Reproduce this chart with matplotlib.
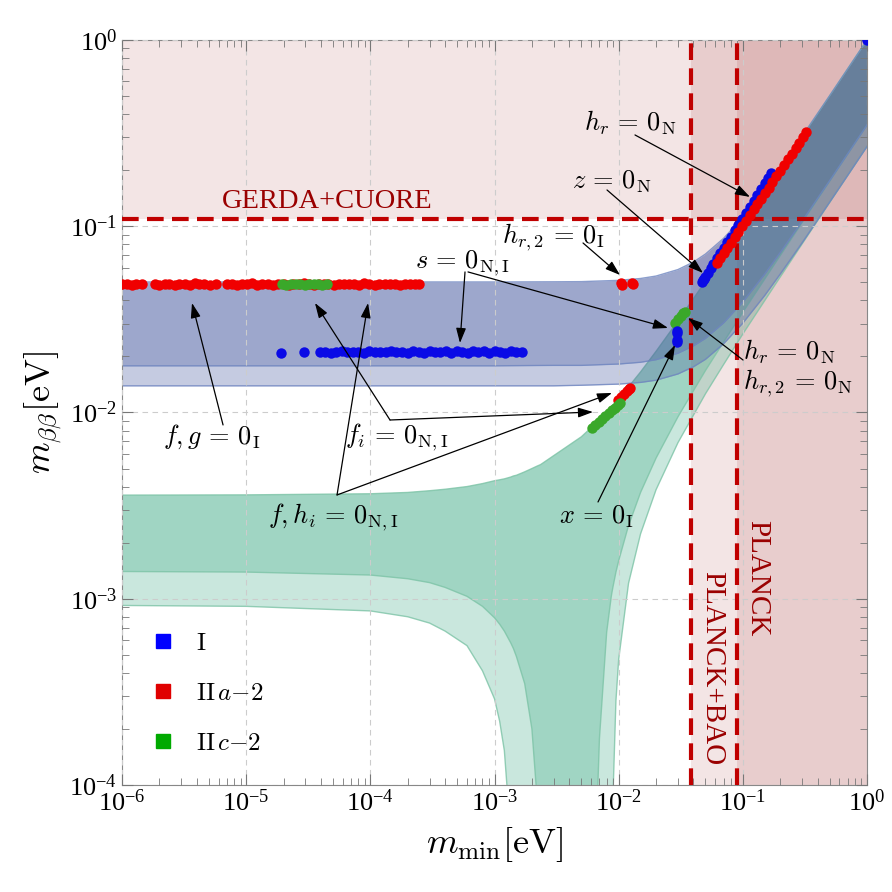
import matplotlib
matplotlib.use('Agg')
import matplotlib.pyplot as plt
from matplotlib.lines import Line2D

plt.rcParams['font.family'] = 'serif'
plt.rcParams['font.serif'] = ['Liberation Serif', 'DejaVu Serif']
plt.rcParams['mathtext.fontset'] = 'cm'

# --- allowed m_bb bands, normal ordering (green) ---
m_no = [1e-6, 1e-5, 1e-4, 2e-4, 3e-4, 4e-4, 6e-4, 8e-4, 1e-3, 1.1e-3,
        1.2e-3, 1.35e-3, 1.42e-3, 1.5e-3, 1.75e-3, 2e-3, 2.2e-3, 2.35e-3, 5e-3, 6.5e-3,
        6.7e-3, 7e-3, 8e-3, 8.7e-3, 8.8e-3, 9e-3, 9.5e-3, 1e-2, 1.2e-2, 1.5e-2,
        2e-2, 3e-2, 5e-2, 7e-2, 0.1, 0.2, 0.3, 0.5, 0.7, 1.0]
no_hi = [0.00360, 0.00361, 0.00366, 0.00372, 0.00380, 0.00387, 0.00400, 0.00415, 0.00430, 0.00435,
         0.00440, 0.00450, 0.00456, 0.00460, 0.00480, 0.00500, 0.00515, 0.00525, 0.00740, 0.00870,
         0.00890, 0.00920, 0.0101, 0.01071, 0.01080, 0.01098, 0.01143, 0.0119, 0.01372, 0.0165,
         0.0213, 0.0310, 0.0507, 0.0705, 0.1004, 0.2002, 0.3001, 0.5001, 0.7001, 1.0]
no_lo_dark = [0.00140, 0.00139, 0.00134, 0.00128, 0.00122, 0.00115, 0.00103, 0.00091, 0.00079, 0.00073,
              0.00067, 0.00058, 0.00054, 0.00049, 0.00035, 0.00020, 0.000085, 1e-6, 1e-6, 1e-6,
              0.000076, 0.000178, 0.00066, 0.00102, 0.00107, 0.00116, 0.00139, 0.00160, 0.00247, 0.00372,
              0.00569, 0.00947, 0.0168, 0.0239, 0.0345, 0.0696, 0.1046, 0.1744, 0.2443, 0.349]
no_lo_light = [0.00092, 0.00091, 0.00086, 0.00080, 0.00074, 0.00067, 0.00056, 0.00041, 0.00029, 0.00022,
               0.000153, 0.000053, 1e-6, 1e-6, 1e-6, 1e-6, 1e-6, 1e-6, 1e-6, 1e-6,
               1e-6, 1e-6, 1e-6, 1e-6, 1e-6, 0.000088, 0.000283, 0.000474, 0.00121, 0.00223,
               0.00385, 0.00688, 0.0126, 0.0181, 0.0264, 0.0534, 0.0803, 0.134, 0.1875, 0.268]

# --- allowed m_bb bands, inverted ordering (blue) ---
m_io = [1e-6, 1e-4, 1e-3, 3e-3, 5e-3, 1e-2, 1.5e-2, 2e-2, 3e-2, 4e-2,
        5e-2, 7e-2, 0.1, 0.15, 0.2, 0.3, 0.5, 0.7, 1.0]
io_hi = [0.0502, 0.0502, 0.0502, 0.0503, 0.0504, 0.0512, 0.0524, 0.0540, 0.0585, 0.0642,
         0.0709, 0.0861, 0.1119, 0.1582, 0.2062, 0.3042, 0.5025, 0.7018, 1.0]
io_lo_dark = [0.0178, 0.0178, 0.0178, 0.0179, 0.0179, 0.0182, 0.0186, 0.0192, 0.0208, 0.0228,
              0.0250, 0.0303, 0.0392, 0.0554, 0.0722, 0.1065, 0.1759, 0.2456, 0.350]
io_lo_light = [0.0139, 0.0139, 0.0139, 0.0139, 0.0140, 0.0142, 0.0145, 0.0149, 0.0161, 0.0176,
               0.0193, 0.0234, 0.0302, 0.0425, 0.0554, 0.0815, 0.1347, 0.188, 0.268]

# experimental bounds
gerda_cuore = 0.11
planck_bao = 0.038
planck = 0.09

# --- scan points ---
# texture I (blue)
blue_x = [1.9e-5, 2.9e-5, 3.9e-5, 4.3e-5, 4.8e-5, 5.3e-5, 5.9e-5, 6.5e-5, 7.2e-5, 8.0e-5,
          8.9e-5, 9.8e-5, 1.09e-4, 1.2e-4, 1.33e-4, 1.47e-4, 1.62e-4, 1.8e-4, 2.0e-4, 2.2e-4,
          2.45e-4, 2.7e-4, 3.0e-4, 3.3e-4, 3.65e-4, 4.05e-4, 4.5e-4, 5.0e-4, 5.5e-4, 6.1e-4,
          6.7e-4, 7.4e-4, 8.2e-4, 9.1e-4, 1.0e-3, 1.1e-3, 1.22e-3, 1.35e-3, 1.5e-3, 1.65e-3,
          0.047, 0.048, 0.049, 0.050, 0.052, 0.055, 0.058, 0.062, 0.066, 0.070,
          0.075, 0.080, 0.086, 0.092, 0.099, 0.106, 0.114, 0.122, 0.131, 0.140,
          0.150, 0.160, 0.170, 1.0]
blue_y = [0.0209, 0.0211, 0.0210, 0.0212, 0.0209, 0.0211, 0.0213, 0.0210, 0.0212, 0.0211,
          0.0209, 0.0213, 0.0211, 0.0210, 0.0212, 0.0214, 0.0210, 0.0212, 0.0209, 0.0213,
          0.0211, 0.0208, 0.0214, 0.0210, 0.0212, 0.0215, 0.0209, 0.0213, 0.0211, 0.0208,
          0.0214, 0.0210, 0.0213, 0.0209, 0.0215, 0.0211, 0.0208, 0.0213, 0.0211, 0.0212,
          0.0500, 0.0514, 0.0520, 0.0536, 0.0558, 0.0594, 0.0627, 0.0672, 0.0718, 0.0764,
          0.0821, 0.0879, 0.0949, 0.1019, 0.1100, 0.1181, 0.1275, 0.1369, 0.1475, 0.1581,
          0.1699, 0.1818, 0.1937, 1.0]
blue_cl_x = [0.0293, 0.0296, 0.0294, 0.0297]
blue_cl_y = [0.0274, 0.0266, 0.0245, 0.0238]

# texture II a-2 (red)
red_x = [1.0e-6, 1.1e-6, 1.2e-6, 1.3e-6, 1.45e-6,
         1.85e-6, 2.0e-6, 2.2e-6, 2.4e-6, 2.65e-6, 2.9e-6, 3.2e-6, 3.5e-6, 3.85e-6, 4.2e-6,
         4.6e-6, 5.1e-6, 5.7e-6,
         7.0e-6, 7.7e-6, 8.5e-6, 9.3e-6, 1.02e-5, 1.12e-5, 1.23e-5, 1.35e-5, 1.5e-5, 1.65e-5,
         1.8e-5, 2.0e-5, 2.2e-5, 2.4e-5, 2.65e-5, 2.9e-5, 3.2e-5, 3.5e-5, 3.85e-5, 4.2e-5,
         4.6e-5, 5.1e-5, 5.6e-5, 6.1e-5, 6.7e-5, 7.4e-5, 8.1e-5, 8.9e-5, 9.8e-5, 1.08e-4,
         1.18e-4, 1.3e-4, 1.43e-4, 1.57e-4, 1.72e-4, 1.9e-4, 2.08e-4, 2.28e-4, 2.45e-4,
         0.0105, 0.0107, 0.0128, 0.0131,
         0.0099, 0.0104, 0.0110, 0.0116, 0.0121, 0.0124,
         0.062, 0.066, 0.070, 0.075, 0.080, 0.086, 0.092, 0.099, 0.106, 0.114,
         0.122, 0.131, 0.140, 0.150, 0.161, 0.173, 0.186, 0.200, 0.215, 0.231,
         0.248, 0.266, 0.285, 0.305, 0.325]
red_y = [0.0488, 0.0492, 0.0485, 0.0490, 0.0487,
         0.0490, 0.0486, 0.0492, 0.0488, 0.0484, 0.0491, 0.0489, 0.0486, 0.0493, 0.0487,
         0.0490, 0.0485, 0.0489,
         0.0487, 0.0491, 0.0486, 0.0490, 0.0488, 0.0493, 0.0485, 0.0489, 0.0492, 0.0486,
         0.0490, 0.0488, 0.0484, 0.0491, 0.0487, 0.0493, 0.0489, 0.0486, 0.0490, 0.0488,
         0.0492, 0.0485, 0.0489, 0.0491, 0.0487, 0.0490, 0.0486, 0.0493, 0.0488, 0.0485,
         0.0491, 0.0489, 0.0487, 0.0492, 0.0486, 0.0490, 0.0488, 0.0491, 0.0487,
         0.0494, 0.0484, 0.0496, 0.0487,
         0.0117, 0.0121, 0.0126, 0.0131, 0.0134, 0.0136,
         0.0637, 0.0677, 0.0717, 0.0767, 0.0816, 0.0876, 0.0935, 0.1004, 0.1073, 0.1152,
         0.1231, 0.1319, 0.1407, 0.1505, 0.1612, 0.1729, 0.1855, 0.1991, 0.2136, 0.2291,
         0.2454, 0.2628, 0.2810, 0.3002, 0.3193]

# texture II c-2 (green)
green_x = [1.95e-5, 2.1e-5, 2.3e-5, 2.5e-5, 2.7e-5, 2.95e-5, 3.2e-5, 3.5e-5, 3.8e-5, 4.1e-5, 4.45e-5,
           0.0061, 0.0065, 0.0069, 0.0073, 0.0078, 0.0083, 0.0088, 0.0093, 0.0098, 0.0102,
           0.0285, 0.0300, 0.0315, 0.0330, 0.0341]
green_y = [0.0488, 0.0486, 0.0490, 0.0487, 0.0491, 0.0486, 0.0489, 0.0487, 0.0490, 0.0486, 0.0488,
           0.0083, 0.0086, 0.0089, 0.0092, 0.0096, 0.0099, 0.0103, 0.0106, 0.0109, 0.0112,
           0.0303, 0.0318, 0.0330, 0.0342, 0.0347]

# labels (text, x, y, ha) and arrows (x0, y0, x1, y1)
labels = [
    (r'$h_r\,=\,0_{\mathrm{N}}$', 0.01234, 0.3583, 'center'),
    (r'$z\,=\,0_{\mathrm{N}}$', 0.00884, 0.1728, 'center'),
    (r'$h_{r,2}\,=\,0_{\mathrm{I}}$', 0.002958, 0.0876, 'center'),
    (r'$s\,=\,0_{\mathrm{N,I}}$', 0.000547, 0.0635, 'center'),
    (r'$h_r\,=\,0_{\mathrm{N}}$', 0.1003, 0.02113, 'left'),
    (r'$h_{r,2}\,=\,0_{\mathrm{N}}$', 0.1003, 0.01440, 'left'),
    (r'$f, g\,=\,0_{\mathrm{I}}$', 5.31e-6, 0.00739, 'center'),
    (r'$f_i\,=\,0_{\mathrm{N,I}}$', 1.64e-4, 0.00739, 'center'),
    (r'$f, h_i\,=\,0_{\mathrm{N,I}}$', 5.0e-5, 0.002748, 'center'),
    (r'$x\,=\,0_{\mathrm{I}}$', 0.006689, 0.002748, 'center'),
]
arrows = [
    (0.01353, 0.309, 0.1142, 0.1436),
    (0.008054, 0.1565, 0.04775, 0.0561),
    (0.005161, 0.08128, 0.01025, 0.0547),
    (5.785e-4, 0.05682, 5.27e-4, 0.0236),
    (6.115e-4, 0.05682, 0.02495, 0.02843),
    (0.1003, 0.01913, 0.03617, 0.03217),
    (6.51e-6, 0.00857, 3.66e-6, 0.0387),
    (1.44e-4, 0.00911, 3.58e-5, 0.0387),
    (1.44e-4, 0.00911, 0.006211, 0.01006),
    (5.39e-5, 0.003606, 9.58e-5, 0.0387),
    (5.39e-5, 0.003606, 0.00884, 0.01273),
    (0.006815, 0.003307, 0.02842, 0.02304),
]

fig = plt.figure(figsize=(8.92, 8.92), dpi=100)
ax = fig.add_axes([0.1368, 0.12, 0.8352, 0.8352])
ax.set_xscale('log')
ax.set_yscale('log')
ax.set_xlim(1e-6, 1)
ax.set_ylim(1e-4, 1)

# excluded regions
ax.axhspan(gerda_cuore, 1, color='darkred', alpha=0.1, lw=0, zorder=1)
ax.axvspan(planck_bao, 1, color='darkred', alpha=0.1, lw=0, zorder=1)
ax.axvspan(planck, 1, color='darkred', alpha=0.1, lw=0, zorder=1)

# bands (NO first, IO on top)
blue = (0.26, 0.33, 0.62)
green = (0.16, 0.63, 0.47)
ax.fill_between(m_no, no_lo_light, no_hi, color=green, alpha=0.25, lw=0, zorder=2)
ax.fill_between(m_no, no_lo_dark, no_hi, color=green, alpha=0.25, lw=0, zorder=2)
for lo in (no_lo_light, no_lo_dark, no_hi):
    ax.plot(m_no, lo, color='#7cc3a6', lw=1, alpha=0.8, zorder=2)
ax.fill_between(m_io, io_lo_light, io_hi, color=blue, alpha=0.3, lw=0, zorder=2)
ax.fill_between(m_io, io_lo_dark, io_hi, color=blue, alpha=0.3, lw=0, zorder=2)
for lo in (io_lo_light, io_lo_dark, io_hi):
    ax.plot(m_io, lo, color='#6f86c0', lw=1, alpha=0.8, zorder=2)

# bounds
ax.axhline(gerda_cuore, color='#c00000', lw=3, ls=(0, (4, 2)), zorder=4)
ax.axvline(planck_bao, color='#c00000', lw=3, ls=(0, (4, 2)), zorder=4)
ax.axvline(planck, color='#c00000', lw=3, ls=(0, (4, 2)), zorder=4)
ax.text(4.48e-5, 0.135, 'GERDA+CUORE', color='#9a0000', fontsize=20.5,
        ha='center', va='center', zorder=6)
ax.text(0.0564, 4.25e-4, 'PLANCK+BAO', color='#9a0000', fontsize=21,
        rotation=-90, ha='center', va='center', zorder=6)
ax.text(0.130, 1.29e-3, 'PLANCK', color='#9a0000', fontsize=21,
        rotation=-90, ha='center', va='center', zorder=6)

# points
ms = 7.5
ax.plot(blue_x, blue_y, 'o', color='#0a0ae6', ms=ms, mew=0, zorder=5)
ax.plot(red_x, red_y, 'o', color='#f00000', ms=ms, mew=0, zorder=5)
ax.plot(green_x, green_y, 'o', color='#3aa82a', ms=ms, mew=0, zorder=5)
ax.plot(blue_cl_x, blue_cl_y, 'o', color='#0a0ae6', ms=ms, mew=0, zorder=5)

# annotations
for x0, y0, x1, y1 in arrows:
    ax.annotate('', xy=(x1, y1), xytext=(x0, y0),
                arrowprops=dict(arrowstyle='-|>,head_length=0.9,head_width=0.3',
                                color='black', lw=0.9, shrinkA=0, shrinkB=0),
                zorder=6)
for txt, x, y, ha in labels:
    ax.text(x, y, txt, fontsize=19, ha=ha, va='center', zorder=7)

# legend
handles = [Line2D([], [], marker='s', ls='', color='#0000ff', ms=9.5),
           Line2D([], [], marker='s', ls='', color='#e00000', ms=9.5),
           Line2D([], [], marker='s', ls='', color='#00aa00', ms=9.5)]
ax.legend(handles, [r'$\mathrm{I}$', r'$\mathrm{II}\,a{-}2$', r'$\mathrm{II}\,c{-}2$'],
          loc='lower left', bbox_to_anchor=(0.005, 0.01), frameon=False,
          fontsize=18, labelspacing=1.1, handlelength=1.2, handletextpad=0.7)

ax.grid(True, which='major', ls=(0, (5, 4)), color='#cccccc', lw=0.8)
ax.set_axisbelow(False)
ax.tick_params(which='both', direction='in', top=True, right=True, colors='#777777',
               labelcolor='black', labelsize=19)
ax.tick_params(which='major', length=8)
ax.tick_params(which='minor', length=5)
for s in ax.spines.values():
    s.set_color('#888888')

ax.set_xlabel(r'$m_{\rm min}[\mathrm{eV}]$', fontsize=26, labelpad=6)
ax.set_ylabel(r'$m_{\beta\beta}[\mathrm{eV}]$', fontsize=26, labelpad=4)

fig.savefig('out.png', dpi=100)
